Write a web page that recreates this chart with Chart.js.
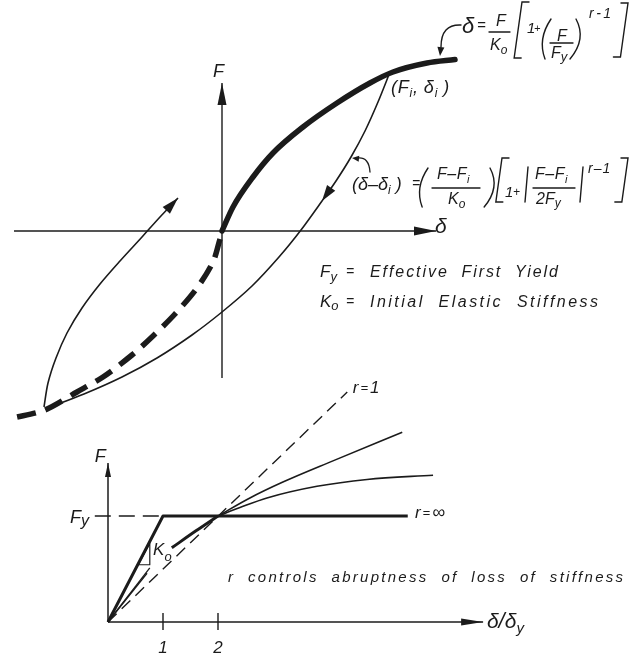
<!doctype html>
<html lang="en">
<head>
<meta charset="utf-8">
<title>Ramberg-Osgood hysteresis model</title>
<script src="https://cdn.jsdelivr.net/npm/chart.js"></script>
<style>
  html, body { margin: 0; padding: 0; background: #fff; }
  #wrap { position: relative; width: 636px; height: 660px; overflow: hidden; }
  .pane { position: absolute; left: 0; width: 636px; }
  #top { top: 0; height: 430px; }
  #bottom { top: 380px; height: 280px; }
</style>
</head>
<body>
<div id="wrap">
  <div class="pane" id="top"><canvas id="loopChart" width="636" height="430"></canvas></div>
  <div class="pane" id="bottom"><canvas id="rChart" width="636" height="280"></canvas></div>
</div>

<script>
// ---- upper sketch: hysteresis loop, delta (x) against F (y) ----
const deltaAxis = [-2.08, 2.14];
const forceAxis = [-1.47, 1.48];

// skeleton curve (thick), loading from origin to (Fi, di)
const backboneD = [0, 0.11, 0.31, 0.51, 0.81, 1.15, 1.48, 1.71, 2.05, 2.33];
const backboneF = [0, 0.24, 0.54, 0.78, 1.04, 1.28, 1.48, 1.59, 1.68, 1.715];

// mirrored skeleton in compression (thick dashed)
const mirrorD = [-0.02, -0.09, -0.25, -0.47, -0.69, -0.90, -1.19, -1.45, -1.77, -2.09];
const mirrorF = [-0.08, -0.31, -0.57, -0.83, -1.05, -1.24, -1.46, -1.61, -1.79, -1.87];

// unloading branch from (Fi, di), arrow sits on the 6th point
const unloadD = [1.68, 1.56, 1.43, 1.29, 1.14, 1.00, 0.79, 0.57, 0.30, 0, -0.30, -0.65, -1.00, -1.38, -1.77];
const unloadF = [1.59, 1.29, 1.00, 0.74, 0.50, 0.30, 0.01, -0.26, -0.55, -0.81, -1.04, -1.27, -1.46, -1.63, -1.78];

// reloading branch back up
const reloadD = [-1.78, -1.74, -1.66, -1.55, -1.40, -1.22, -1.02, -0.80, -0.62, -0.44];
const reloadF = [-1.76, -1.52, -1.27, -1.02, -0.77, -0.53, -0.30, -0.06, 0.14, 0.33];

// ---- lower sketch: F/Fy against delta/delta_y for several r ----
const ratioAxis = [0, 6.82];
const fyAxis = [0, 1.5];
const tickValues = [1, 2];
const tickSpan = [-0.075, 0.085];

const rInfD = [0, 1, 5.45];          // r = infinity (bilinear)
const rInfF = [0, 1, 1];
const rOneD = [0, 4.35];             // r = 1 (linear)
const rOneF = [0, 2.17];
const fyLineD = [-0.24, 1];
const fyLineF = [1, 1];
// the finite-r curves leave the origin on Ko, break for the Ko label,
// run together up to (2, 1) and then fan out
const stubLowD = [0, 0.71];
const stubLowF = [0, 0.46];
const stubHighD = [0, 0.76];
const stubHighF = [0, 0.51];
const sharedD = [1.16, 1.6, 2];
const sharedF = [0.70, 0.86, 1];
const rLowD = [2, 2.58, 3.18, 4.09, 5.35];
const rLowF = [1, 1.17, 1.32, 1.52, 1.79];
const rHighD = [2, 2.4, 2.89, 3.8, 4.71, 5.91];
const rHighF = [1, 1.08, 1.17, 1.28, 1.345, 1.385];
const koTriD = [0.55, 0.76, 0.76, 0.55];
const koTriF = [0.54, 0.54, 0.74, 0.54];

// where the lettering sits (data units of each sketch)
const loopNotes = {
  forceName: [-0.09, 1.54],
  deltaName: [2.13, -0.02],
  yieldPoint: [1.69, 1.38],
  backboneLaw: [2.40, 1.98],
  branchLaw: [1.30, 0.41],
  legendFy: [0.98, -0.46],
  legendKo: [0.98, -0.76]
};
const rNotes = {
  forceName: [-0.24, 1.51],
  fyName: [-0.69, 0.93],
  tickLabel: -0.29,
  koName: [0.82, 0.63],
  remark: [2.18, 0.377],
  rInf: [5.58, 0.98],
  rOne: [4.45, 2.16],
  ratioName: [6.89, -0.057]
};

const INK = '#1b1b1b';
const FONT = '"Liberation Sans", "DejaVu Sans", sans-serif';

const xy = (xs, ys) => xs.map((x, i) => ({ x: x, y: ys[i] }));

function trace(xs, ys, style) {
  return Object.assign({
    data: xy(xs, ys), showLine: true, borderColor: INK, backgroundColor: INK,
    borderWidth: 1.5, pointRadius: 0, tension: 0, fill: false, clip: false,
    borderCapStyle: 'butt', borderJoinStyle: 'round'
  }, style);
}

// --- small drawing helpers for the hand lettering ---
function put(ctx, s, x, y, size, align) {
  ctx.font = 'italic ' + size + 'px ' + FONT;
  ctx.textAlign = align || 'left';
  ctx.textBaseline = 'alphabetic';
  ctx.fillText(s, x, y);
  return x + ctx.measureText(s).width;
}
function run(ctx, x, y, parts, gap) {
  parts.forEach(p => { x = put(ctx, p[0], x, y + (p[2] || 0), p[1]) + (gap || 0); });
  return x;
}
function spaced(ctx, s, x, y, size, width) {
  ctx.font = 'italic ' + size + 'px ' + FONT;
  ctx.textAlign = 'left';
  const w = ctx.measureText(s).width;
  ctx.letterSpacing = ((width - w) / (s.length - 1)).toFixed(2) + 'px';
  ctx.fillText(s, x, y);
  ctx.letterSpacing = '0px';
}
function seg(ctx, pts, lw) {
  ctx.lineWidth = lw || 1.3;
  ctx.beginPath();
  pts.forEach((p, i) => i ? ctx.lineTo(p[0], p[1]) : ctx.moveTo(p[0], p[1]));
  ctx.stroke();
}
function paren(ctx, x, y1, y2, open) {
  const h = y2 - y1;
  ctx.lineWidth = 1.4;
  ctx.beginPath();
  ctx.moveTo(x, y1);
  ctx.quadraticCurveTo(x + (open ? -0.34 : 0.27) * h, (y1 + y2) / 2, x - 0.15 * h, y2);
  ctx.stroke();
}
function bracket(ctx, x, y1, y2, open) {
  const s = (y2 - y1) * 0.14, w = open ? 7 : -7;
  seg(ctx, [[x + w, y1], [x, y1], [x - s, y2], [x - s + w, y2]], 1.4);
}
function head(ctx, x, y, ang, len, half) {
  ctx.save();
  ctx.translate(x, y);
  ctx.rotate(ang);
  ctx.beginPath();
  ctx.moveTo(0, 0);
  ctx.lineTo(-len, half);
  ctx.lineTo(-len, -half);
  ctx.closePath();
  ctx.fill();
  ctx.restore();
}

// arrowheads on datasets that ask for one
const arrowPlugin = {
  id: 'arrowHeads',
  afterDatasetsDraw(chart) {
    const ctx = chart.ctx;
    ctx.fillStyle = INK;
    chart.data.datasets.forEach((ds, i) => {
      if (!ds.arrow) return;
      const pts = chart.getDatasetMeta(i).data;
      const k = ds.arrow.at === undefined ? pts.length - 1 : ds.arrow.at;
      const tip = pts[k], from = pts[k - 1];
      head(ctx, tip.x, tip.y, Math.atan2(tip.y - from.y, tip.x - from.x), ds.arrow.len, ds.arrow.half);
    });
  }
};

function sketch(id, datasets, xr, yr, lettering) {
  return new Chart(document.getElementById(id), {
    type: 'scatter',
    data: { datasets: datasets },
    options: {
      responsive: false, animation: false, events: [],
      layout: { padding: 0 },
      scales: {
        x: { type: 'linear', display: false, min: xr[0], max: xr[1] },
        y: { type: 'linear', display: false, min: yr[0], max: yr[1] }
      },
      plugins: { legend: { display: false }, tooltip: { enabled: false } }
    },
    plugins: [arrowPlugin, {
      id: 'lettering',
      afterDraw(c) {
        const ctx = c.ctx;
        ctx.save();
        ctx.fillStyle = INK;
        ctx.strokeStyle = INK;
        ctx.lineCap = 'round';
        lettering(ctx, v => c.scales.x.getPixelForValue(v), v => c.scales.y.getPixelForValue(v));
        ctx.restore();
      }
    }]
  });
}

// ---------- upper chart ----------
function loopLettering(ctx, X, Y) {
  const at = k => [X(loopNotes[k][0]), Y(loopNotes[k][1])];
  let p;

  p = at('forceName'); put(ctx, 'F', p[0], p[1], 18);
  p = at('deltaName'); put(ctx, 'δ', p[0], p[1], 21);
  p = at('yieldPoint');
  run(ctx, p[0], p[1], [['(', 18], ['F', 18], ['i', 12, 4], [', ', 18], ['δ', 18], ['i', 12, 4], [' )', 18]], 0.8);

  // delta = F/Ko [1 + (F/Fy)^(r-1)]
  const [a, b] = at('backboneLaw');
  put(ctx, 'δ', a, b, 22);
  put(ctx, '=', a + 15, b - 3, 15);
  put(ctx, 'F', a + 34, b - 7, 16);
  seg(ctx, [[a + 27, b - 1], [a + 48, b - 1]]);
  run(ctx, a + 28, b + 17, [['K', 16], ['o', 12, 4]]);
  bracket(ctx, a + 60, b - 31, b + 25, true);
  put(ctx, '1', a + 65, b, 15);
  put(ctx, '+', a + 72, b - 1, 11);
  paren(ctx, a + 89, b - 14, b + 26, true);
  put(ctx, 'F', a + 95, b + 8, 16);
  seg(ctx, [[a + 88, b + 10], [a + 111, b + 10]]);
  run(ctx, a + 89, b + 25, [['F', 16], ['y', 13, 3]]);
  paren(ctx, a + 114, b - 14, b + 26, false);
  run(ctx, a + 127, b - 15, [['r', 14], ['-', 14], ['1', 14]], 2.5);
  bracket(ctx, a + 166, b - 30, b + 24, false);
  // hook pointing at the skeleton curve
  ctx.lineWidth = 1.4;
  ctx.beginPath();
  ctx.moveTo(a - 1, b - 8);
  ctx.quadraticCurveTo(a - 21, b - 9, a - 21, b + 14);
  ctx.stroke();
  head(ctx, a - 22, b + 23, Math.PI / 2 + 0.1, 9, 3.5);

  // (d - di) = ((F - Fi)/Ko)[1 + |(F - Fi)/2Fy|^(r-1)]
  const [c, d] = at('branchLaw');
  run(ctx, c, d, [['(', 18], ['δ', 18], ['–', 18], ['δ', 18], ['i', 12, 4], [' )', 18]]);
  put(ctx, '=', c + 60, d - 2, 14);
  paren(ctx, c + 76, d - 22, d + 17, true);
  run(ctx, c + 85, d - 11, [['F', 16], ['–', 16], ['F', 16], ['i', 11, 4]], 0.5);
  seg(ctx, [[c + 80, d - 2], [c + 128, d - 2]]);
  run(ctx, c + 96, d + 14, [['K', 16], ['o', 12, 4]]);
  paren(ctx, c + 138, d - 22, d + 17, false);
  bracket(ctx, c + 150, d - 32, d + 12, true);
  put(ctx, '1', c + 153, d + 7, 15);
  put(ctx, '+', c + 161, d + 6, 12);
  seg(ctx, [[c + 176, d - 23], [c + 173, d + 12]], 1.4);
  run(ctx, c + 183, d - 11, [['F', 16], ['–', 16], ['F', 16], ['i', 11, 4]], 0.5);
  seg(ctx, [[c + 181, d - 2], [c + 223, d - 2]]);
  run(ctx, c + 184, d + 14, [['2', 16], ['F', 16], ['y', 12, 3]]);
  seg(ctx, [[c + 231, d - 23], [c + 228, d + 12]], 1.4);
  run(ctx, c + 236, d - 17, [['r', 14], ['–', 14], ['1', 14]], 1);
  bracket(ctx, c + 276, d - 32, d + 12, false);
  // hook pointing at the unloading branch
  ctx.lineWidth = 1.3;
  ctx.beginPath();
  ctx.moveTo(c + 18, d - 18);
  ctx.quadraticCurveTo(c + 17, d - 33, c + 6, d - 32);
  ctx.stroke();
  head(ctx, c, d - 32, Math.PI + 0.1, 7, 3);

  // legend
  p = at('legendFy');
  run(ctx, p[0], p[1], [['F', 17], ['y', 13, 4]]);
  put(ctx, '=', p[0] + 26, p[1] - 1, 14);
  spaced(ctx, 'Effective  First  Yield', p[0] + 50, p[1], 16, 188);
  p = at('legendKo');
  run(ctx, p[0], p[1], [['K', 17], ['o', 13, 3]]);
  put(ctx, '=', p[0] + 26, p[1] - 1, 14);
  spaced(ctx, 'Initial  Elastic  Stiffness', p[0] + 50, p[1], 16, 228);
}

sketch('loopChart', [
  trace(deltaAxis, [0, 0], { borderWidth: 1.4, arrow: { len: 22, half: 4.5 } }),
  trace([0, 0], forceAxis, { borderWidth: 1.4, arrow: { len: 22, half: 4.5 } }),
  trace(unloadD, unloadF, { borderWidth: 1.6, tension: 0.3, arrow: { at: 5, len: 16, half: 5 } }),
  trace(reloadD, reloadF, { borderWidth: 1.6, tension: 0.3, arrow: { len: 17, half: 5 } }),
  trace(mirrorD, mirrorF, { borderWidth: 5.5, tension: 0.3, borderDash: [19, 10] }),
  trace(backboneD, backboneF, { borderWidth: 5.5, cubicInterpolationMode: 'monotone', borderCapStyle: 'round' })
], [-2.22, 4.14], [-1.99, 2.31], loopLettering);

// ---------- lower chart ----------
function rLettering(ctx, X, Y) {
  const at = k => [X(rNotes[k][0]), Y(rNotes[k][1])];
  let p;
  p = at('forceName'); put(ctx, 'F', p[0], p[1], 18);
  p = at('fyName'); run(ctx, p[0], p[1], [['F', 18], ['y', 16, 3]]);
  tickValues.forEach(v => put(ctx, String(v), X(v), Y(rNotes.tickLabel), 17, 'center'));
  p = at('koName'); run(ctx, p[0], p[1], [['K', 17], ['o', 13, 6]]);
  p = at('remark');
  spaced(ctx, 'r  controls  abruptness  of  loss  of  stiffness', p[0], p[1], 15, 395);
  p = at('rInf'); run(ctx, p[0], p[1], [['r', 17], ['=', 13, -1], ['∞', 18]], 2);
  p = at('rOne'); run(ctx, p[0], p[1], [['r', 17], ['=', 13, -1], ['1', 17]], 2);
  p = at('ratioName'); run(ctx, p[0], p[1], [['δ', 21], ['/', 22], ['δ', 21], ['y', 15, 5]]);
}

const tickSets = tickValues.map(v => trace([v, v], tickSpan, { borderWidth: 1.4 }));

sketch('rChart', [
  trace(ratioAxis, [0, 0], { borderWidth: 1.5, arrow: { len: 22, half: 3.5 } }),
  trace([0, 0], fyAxis, { borderWidth: 1.5, arrow: { len: 14, half: 3 } }),
  ...tickSets,
  trace(fyLineD, fyLineF, { borderWidth: 1.4, borderDash: [16, 8] }),
  trace(rOneD, rOneF, { borderWidth: 1.4, borderDash: [12, 7] }),
  trace(stubLowD, stubLowF, { borderWidth: 1.3 }),
  trace(stubHighD, stubHighF, { borderWidth: 1.3 }),
  trace(sharedD, sharedF, { borderWidth: 3, cubicInterpolationMode: 'monotone' }),
  trace(rLowD, rLowF, { borderWidth: 1.6, cubicInterpolationMode: 'monotone' }),
  trace(rHighD, rHighF, { borderWidth: 1.6, cubicInterpolationMode: 'monotone' }),
  trace(koTriD, koTriF, { borderWidth: 1.2 }),
  trace(rInfD, rInfF, { borderWidth: 3 })
], [-108 / 55, 528 / 55], [-38 / 106, 242 / 106], rLettering);
</script>
</body>
</html>
